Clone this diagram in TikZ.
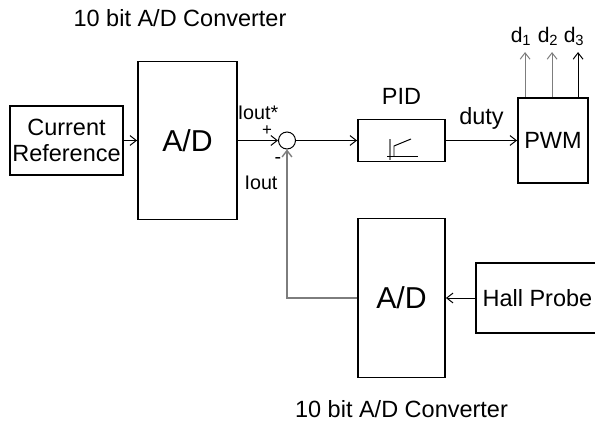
\documentclass[tikz,border=0pt]{standalone}
\usepackage{fontspec}
\setmainfont{Liberation Sans}
\usepackage{tikz}
\usetikzlibrary{arrows.meta,positioning,calc}
\definecolor{linegray}{RGB}{125,125,125}
\newcommand{\lblfont}{\fontsize{16.7}{18.5}\selectfont}
\newcommand{\adfont}{\fontsize{21.5}{23}\selectfont}
\newcommand{\smfont}{\fontsize{14}{15}\selectfont}

\begin{document}
\begin{tikzpicture}[x=0.025cm,y=-0.025cm,
 >={Straight Barb[length=4.5pt,width=7pt]},line width=0.7pt,
 box/.style={draw,line width=1.3pt,inner sep=0pt,align=center,font=\lblfont},
 lbl/.style={inner sep=0pt,font=\lblfont},
 sumnode/.style={draw,circle,line width=0.7pt,minimum size=0.425cm,inner sep=0pt}]
\useasboundingbox (0,0) rectangle (595,421);
\node[box,minimum width=2.825cm,minimum height=1.725cm] (cref) at (66.5,140.5) {Current\\Reference};
\node[box,minimum width=2.475cm,minimum height=3.95cm,font=\adfont] (adc1) at (187.5,140.5) {A/D};
\node[sumnode] (sum) at (287,140.5) {};
\node[box,minimum width=2.175cm,minimum height=1.05cm] (pid) at (401.5,140.5) {};
\node[box,minimum width=1.75cm,minimum height=2.125cm] (pwm) at (553,140.5) {PWM};
\node[box,minimum width=2.175cm,minimum height=3.975cm,font=\adfont] (adc2) at (401.5,298) {A/D};
\node[box,minimum width=3.075cm,minimum height=1.75cm,anchor=west] (hall) at (475,298) {Hall Probe};
% labels
\node[lbl] (adc1lbl) at (180,18) {10 bit A/D Converter};
\node[lbl,below=0.54cm of adc2] (adc2lbl) {10 bit A/D Converter};
\node[lbl,above=0.34cm of pid] (pidlbl) {PID};
\node[lbl,font=\smfont] (ioutref) at (258,113) {Iout*};
\node[lbl,font=\fontsize{12}{13}\selectfont] (plus) at (267,131) {+};
\node[lbl,font=\smfont] (minus) at (278,161) {-};
\node[lbl,font=\smfont] (iout) at (261,183) {Iout};
% PID symbol
\draw[linegray,line width=1pt] ($(pid)+(-11.5,-1.5)$) -- ++(0,21);
\draw ($(pid)+(-14.5,15.5)$) -- ++(31,0);
\draw ($(pid)+(-7.5,15.5)$) -- ++(0,-10) -- ++(17,-7);
% signal path
\draw[->] (cref) -- (adc1);
\draw[->] (adc1) -- (sum);
\draw[->] (sum) -- (pid);
\draw[->] (pid) -- node[lbl,above=0.27cm] (duty) {duty} (pwm);
\draw[->] (hall) -- (adc2);
\draw[->,linegray,line width=1pt] (adc2.west) -| (sum.south);
\foreach \i/\dx/\c in {1/8/linegray,2/35/linegray,3/61/black}
 \draw[->,\c] ($(pwm.north west)+(\dx,0)$) -- ++(0,-45)
 node[lbl,black,font=\fontsize{15}{16}\selectfont,anchor=base,yshift=0.25cm,xshift=-0.1cm] (d\i) {d\textsubscript{\i}};
\end{tikzpicture}
\end{document}
